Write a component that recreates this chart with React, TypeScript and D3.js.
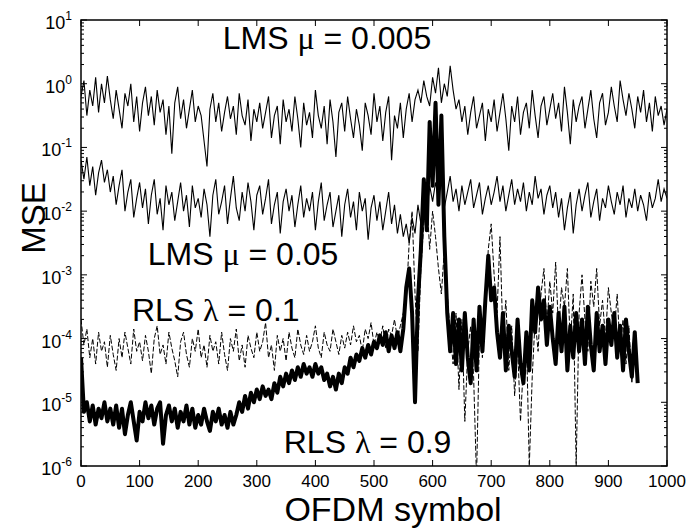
import React from 'react'
import * as d3 from 'd3'

// values are log10(MSE), one every 5 OFDM symbols
const STEP = 5

const lmsSlow = [
  -0.2, 0.05, -0.5, -0.1, -0.35, 0.1, -0.45, 0.0, -0.3, 0.12, -0.25,
  -0.55, -0.1, -0.4, -0.7, -0.15, -0.35, 0.0, -0.6, -0.2, -0.75,
  -0.3, -0.05, -0.5, -0.2, -0.65, -0.1, -0.45, -0.25, -0.8, -0.35,
  -1.1, -0.3, -0.05, -0.55, -0.25, -0.7, -0.4, -0.1, -0.6, -0.35,
  -0.5, -0.9, -1.3, -0.4, -0.15, -0.6, -0.3, -0.75, -0.45, -0.2,
  -0.55, -0.35, -0.8, -0.15, -0.5, -0.65, -0.25, -0.9, -0.4, -0.6,
  -0.3, -0.7, -0.45, -0.2, -0.85, -0.5, -0.35, -0.95, -0.25, -0.6,
  -0.4, -0.75, -0.2, -0.55, -1.0, -0.3, -0.65, -0.45, -0.85, -0.1,
  -0.5, -0.7, -0.35, -0.95, -0.25, -0.6, -1.15, -0.45, -0.3, -0.75,
  -0.2, -0.55, -0.85, -0.4, -0.65, -1.05, -0.3, -0.5, -0.8, -0.15,
  -0.6, -0.35, -0.9, -0.45, -0.2, -1.2, -0.5, -0.7, -0.3, -0.85,
  -0.4, -0.15, -0.6, -0.25, -0.1, -0.3, 0.05, -0.2, -0.35, 0.1,
  -0.15, 0.25, -0.3, 0.0, -0.2, 0.28, -0.1, -0.4, -0.25, -0.6,
  -0.35, -0.8, -0.45, -0.2, -0.7, -0.5, -0.3, -0.9, -0.4, -0.6,
  -0.25, -0.75, -0.45, -0.15, -0.55, -1.05, -0.35, -0.6, -0.2, -0.8,
  -0.45, -0.3, -0.7, -0.1, -0.5, -0.85, -0.35, -0.2, -0.65, -0.4,
  -0.15, -0.55, -0.3, -0.75, -0.05, -0.45, -0.95, -0.25, -0.6, -0.35,
  -0.2, -0.7, -0.4, -0.1, -0.55, -0.85, -0.3, -0.15, -0.65, -0.45,
  -0.05, -0.35, -0.6, 0.05, -0.25, -0.5, -0.15, -0.4, -0.7, -0.2,
  -0.45, -0.1, -0.6, -0.3, -0.75, -0.2, -0.5, -0.35, -0.65, -0.4,
]

const lmsFast = [
  -1.2, -1.5, -1.15, -1.6, -1.3, -1.75, -1.4, -1.2, -1.55, -1.35, -1.7,
  -1.45, -1.9, -1.6, -1.35, -2.0, -1.7, -1.5, -2.1, -1.8, -1.55,
  -1.95, -1.65, -2.2, -1.75, -1.5, -2.05, -1.8, -2.3, -1.6, -1.9,
  -1.7, -2.15, -1.85, -1.55, -2.0, -1.75, -2.25, -1.6, -1.95, -1.8,
  -2.1, -1.65, -1.9, -2.4, -1.75, -1.5, -2.05, -1.85, -1.6, -2.2,
  -1.8, -1.45, -1.95, -2.15, -1.7, -2.0, -1.55, -1.85, -2.3, -1.75,
  -1.6, -2.05, -1.8, -1.5, -2.2, -1.9, -1.7, -2.35, -1.85, -1.65,
  -2.0, -1.75, -2.25, -1.9, -1.6, -2.1, -1.8, -2.0, -1.7, -2.3,
  -1.85, -1.55, -2.15, -1.9, -1.7, -2.25, -2.0, -1.75, -2.4, -1.9,
  -1.65, -2.1, -1.85, -2.3, -1.7, -2.0, -1.8, -2.45, -1.95, -1.75,
  -2.15, -1.85, -2.3, -2.0, -1.7, -2.2, -1.9, -2.35, -2.05, -2.4,
  -2.2, -2.5, -2.1, -2.35, -1.9, -2.2, -1.75, -2.0, -1.6, -1.85,
  -1.55, -1.8, -1.5, -1.95, -1.7, -1.45, -1.85, -1.65, -2.0, -1.6,
  -1.9, -1.7, -1.5, -1.95, -1.75, -1.55, -2.05, -1.8, -1.6, -1.9,
  -1.7, -1.45, -1.85, -1.6, -2.0, -1.75, -1.5, -1.9, -1.65, -1.85,
  -1.55, -2.0, -1.7, -1.9, -1.45, -1.8, -1.65, -2.05, -1.75, -1.6,
  -1.95, -1.7, -2.1, -1.8, -2.3, -1.95, -1.7, -2.35, -1.9, -1.65,
  -2.0, -1.75, -1.55, -2.1, -1.85, -1.65, -2.15, -1.8, -1.95, -1.6,
  -1.85, -2.05, -1.7, -1.9, -1.6, -2.1, -1.8, -1.95, -1.65, -2.0,
  -1.75, -1.9, -2.15, -1.7, -1.95, -1.8, -1.5, -1.85, -1.65, -1.8,
]

const rlsLow = [
  -3.7, -4.1, -3.85, -4.3, -4.0, -4.4, -3.9, -4.2, -4.05, -4.45, -3.95,
  -4.25, -4.5, -4.0, -4.3, -3.9, -4.15, -4.4, -3.85, -4.2, -4.05,
  -4.35, -3.95, -4.2, -4.55, -4.0, -3.8, -4.25, -4.1, -4.4, -3.9,
  -4.15, -4.35, -4.6, -4.05, -3.9, -4.25, -4.45, -4.0, -4.2, -3.85,
  -4.3, -4.1, -4.45, -3.95, -4.2, -4.05, -4.4, -3.9, -4.25, -4.5,
  -4.0, -4.2, -3.85, -4.35, -4.1, -4.45, -3.95, -4.15, -4.3, -3.9,
  -4.2, -4.05, -3.75, -4.3, -4.1, -4.5, -3.95, -4.2, -4.0, -4.35,
  -3.9, -4.15, -4.3, -3.85, -4.1, -4.25, -3.95, -4.2, -4.05, -3.8,
  -4.15, -4.3, -3.9, -4.1, -4.2, -3.85, -4.05, -4.25, -3.95, -4.15,
  -3.9, -4.1, -3.8, -4.05, -3.95, -4.2, -3.85, -4.0, -3.75, -4.1,
  -3.9, -4.05, -3.8, -4.15, -3.85, -3.95, -3.7, -4.0, -3.8, -3.6,
  -3.4, -2.5, -2.0, -3.3, -4.2, -2.9, -2.2, -1.8, -2.6, -2.0,
  -2.4, -2.9, -3.3, -2.6, -3.3, -3.9, -4.4, -3.6, -4.8, -3.7,
  -5.3, -4.2, -3.8, -4.6, -6.2, -3.9, -4.3, -3.5, -2.6, -2.2,
  -3.0, -3.6, -2.4, -4.0, -3.4, -4.5, -3.8, -4.9, -4.1, -5.3,
  -4.4, -3.9, -6.0, -4.6, -3.7, -4.2, -3.3, -2.9, -3.8, -3.1,
  -3.6, -2.8, -3.9, -3.2, -3.5, -2.9, -4.1, -3.3, -6.0, -3.6,
  -3.0, -3.7, -4.2, -3.1, -3.5, -2.9, -3.8, -3.4, -4.0, -3.2,
  -3.6, -3.9, -3.3, -4.2, -3.7, -4.4, -3.8, -4.7, -4.1, -4.6,
]

const rlsHigh = [
  -4.3, -5.15, -5.0, -5.3, -5.05, -5.35, -5.1, -5.25, -5.0, -5.3, -5.1,
  -5.35, -5.05, -5.4, -5.1, -5.5, -5.2, -5.0, -5.3, -5.6, -5.15,
  -5.3, -5.0, -5.25, -5.05, -5.35, -5.1, -5.0, -5.65, -5.2, -5.05,
  -5.3, -5.1, -5.4, -5.15, -5.3, -5.05, -5.35, -5.1, -5.4, -5.2,
  -5.35, -5.1, -5.3, -5.45, -5.15, -5.3, -5.1, -5.35, -5.2, -5.4,
  -5.15, -5.35, -5.2, -5.0, -5.15, -4.9, -5.1, -4.85, -5.0, -4.8,
  -4.95, -4.75, -4.9, -4.8, -4.95, -4.7, -4.85, -4.6, -4.75, -4.55,
  -4.7, -4.5, -4.65, -4.45, -4.6, -4.4, -4.55, -4.45, -4.6, -4.4,
  -4.55, -4.45, -4.65, -4.55, -4.75, -4.6, -4.8, -4.55, -4.7, -4.45,
  -4.55, -4.3, -4.45, -4.25, -4.35, -4.15, -4.3, -4.1, -4.25, -4.05,
  -4.15, -3.95, -4.1, -3.9, -4.2, -3.95, -4.15, -3.9, -4.2, -3.85,
  -3.2, -2.9, -3.6, -5.0, -3.4, -2.6, -1.5, -2.3, -0.6, -1.6,
  -0.3, -1.9, -0.5, -2.4, -3.6, -4.2, -3.6, -4.4, -3.7, -4.5,
  -3.6, -4.3, -4.7, -3.7, -4.5, -3.5, -4.2, -3.4, -2.7, -3.4,
  -3.2, -3.9, -4.3, -3.6, -4.5, -3.8, -4.2, -4.6, -3.7, -4.4,
  -4.7, -3.9, -4.5, -3.4, -3.9, -3.2, -3.7, -3.4, -4.1, -3.5,
  -4.0, -4.4, -3.6, -4.2, -3.5, -4.5, -3.8, -4.3, -3.6, -4.2,
  -3.7, -4.4, -3.5, -4.1, -4.5, -3.6, -4.2, -3.8, -4.4, -3.7,
  -4.1, -3.6, -4.3, -3.8, -4.5, -3.7, -4.2, -4.6, -3.9, -4.7,
]

const xTicks = [0, 100, 200, 300, 400, 500, 600, 700, 800, 900, 1000]
const yDecades = [-6, -5, -4, -3, -2, -1, 0, 1]

// annotation: left edge in OFDM symbols, baseline as log10(MSE)
const labels = [
  { text: 'LMS ', greek: 'μ', rest: ' = 0.005', sym: 242, exp: 0.55 },
  { text: 'LMS ', greek: 'μ', rest: ' = 0.05', sym: 114, exp: -2.85 },
  { text: 'RLS ', greek: 'λ', rest: ' = 0.1', sym: 87, exp: -3.72 },
  { text: 'RLS ', greek: 'λ', rest: ' = 0.9', sym: 346, exp: -5.8 },
]

const W = 686
const H = 529
const left = 81
const right = 667
const top = 20
const bottom = 466

const font = 'Liberation Sans, Arial, sans-serif'

export default function App() {
  const x = d3.scaleLinear().domain([0, 1000]).range([left, right])
  const y = d3.scaleLog().domain([1e-6, 10]).range([bottom, top])

  const line = d3
    .line<number>()
    .x((_, i) => x(i * STEP))
    .y((v) => y(Math.pow(10, v)))

  const minor: number[] = []
  yDecades.slice(0, -1).forEach((d) => {
    for (let k = 2; k < 10; k++) minor.push(k * Math.pow(10, d))
  })

  return (
    <svg width={W} height={H} style={{ display: 'block', position: 'absolute', left: 0, top: 0 }}>
      <defs>
        <clipPath id="plot">
          <rect x={left} y={top} width={right - left} height={bottom - top} />
        </clipPath>
      </defs>
      <rect width={W} height={H} fill="#fff" />

      <g clipPath="url(#plot)" fill="none" stroke="#000">
        <path d={line(lmsSlow) ?? ''} strokeWidth={1.1} />
        <path d={line(lmsFast) ?? ''} strokeWidth={1.1} />
        <path d={line(rlsLow) ?? ''} strokeWidth={1} strokeDasharray="5,2" />
        <path d={line(rlsHigh) ?? ''} strokeWidth={4} strokeLinejoin="round" />
      </g>

      {/* box + ticks */}
      <rect x={left} y={top} width={right - left} height={bottom - top} fill="none" stroke="#000" strokeWidth={1.5} />
      <g stroke="#000" strokeWidth={1}>
        {xTicks.map((t) => (
          <g key={t}>
            <line x1={x(t)} x2={x(t)} y1={bottom} y2={bottom - 6} />
            <line x1={x(t)} x2={x(t)} y1={top} y2={top + 6} />
          </g>
        ))}
        {yDecades.map((d) => (
          <g key={d}>
            <line x1={left} x2={left + 6} y1={y(Math.pow(10, d))} y2={y(Math.pow(10, d))} />
            <line x1={right} x2={right - 6} y1={y(Math.pow(10, d))} y2={y(Math.pow(10, d))} />
          </g>
        ))}
        {minor.map((m, i) => (
          <g key={i}>
            <line x1={left} x2={left + 3} y1={y(m)} y2={y(m)} />
            <line x1={right} x2={right - 3} y1={y(m)} y2={y(m)} />
          </g>
        ))}
      </g>

      <g fontFamily={font} fill="#000">
        {xTicks.map((t) => (
          <text key={t} x={x(t)} y={bottom + 21} fontSize={17} textAnchor="middle">
            {t}
          </text>
        ))}
        {yDecades.map((d) => (
          <text key={d} x={left - 9} y={y(Math.pow(10, d)) + 9} fontSize={18} textAnchor="end">
            10
            <tspan dy={-9} fontSize={12}>
              {d}
            </tspan>
          </text>
        ))}
        <text x={393} y={521} fontSize={34} textAnchor="middle">
          OFDM symbol
        </text>
        <text transform="translate(45, 218) rotate(-90)" fontSize={33} textAnchor="middle">
          MSE
        </text>
        {labels.map((l) => (
          <text key={l.rest + l.text} x={x(l.sym)} y={y(Math.pow(10, l.exp))} fontSize={32}>
            {l.text}
            <tspan fontFamily="Liberation Serif, Times New Roman, serif">{l.greek}</tspan>
            {l.rest}
          </text>
        ))}
      </g>
    </svg>
  )
}
